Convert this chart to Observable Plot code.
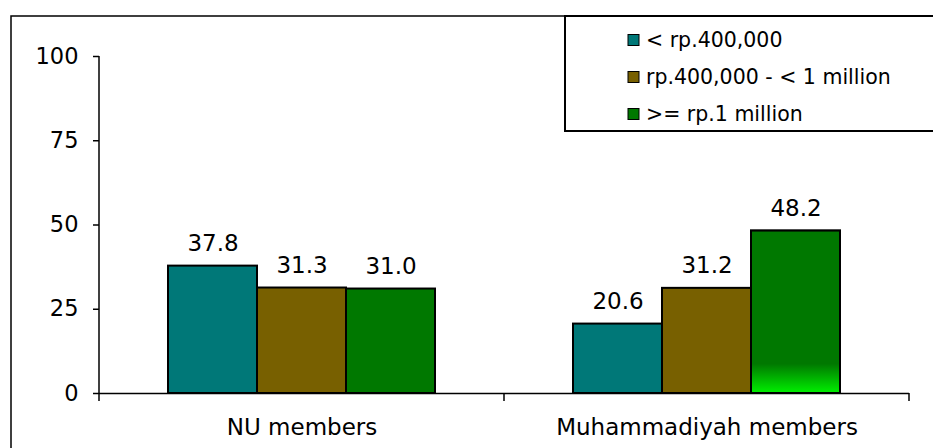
<!DOCTYPE html>
<html><head><meta charset="utf-8">
<script src="https://cdn.jsdelivr.net/npm/d3@7"></script>
<script src="https://cdn.jsdelivr.net/npm/@observablehq/plot@0.6"></script>
<style>body{margin:0;background:#fff} #chart svg{display:block}</style>
</head><body><div id="chart"></div>
<script>
const categories = ["NU members", "Muhammadiyah members"];
const series = ["< rp.400,000", "rp.400,000 - < 1 million", ">= rp.1 million"];
const nuValues = [37.8, 31.3, 31.0];
const muhValues = [20.6, 31.2, 48.2];
const colors = ["#007878", "#786000", "#007800"];
const yTicks = [0, 25, 50, 75, 100];

const data = [];
[nuValues, muhValues].forEach((vals, i) =>
  vals.forEach((v, j) => data.push({cat: categories[i], series: series[j], value: v})));
const gradBar = data.filter(d => d.cat === categories[1] && d.series === series[2]);

const font = "'DejaVu Sans', Verdana, sans-serif";
const chart = Plot.plot({
  width: 933, height: 448,
  marginLeft: 99, marginRight: 24, marginTop: 56, marginBottom: 55,
  style: {fontFamily: font, fontSize: "22px", color: "#000", background: "#fff"},
  fx: {domain: categories, padding: 0},
  x: {domain: series, paddingInner: 0, paddingOuter: 0.76, axis: null},
  y: {domain: [0, 100]},
  color: {domain: series, range: colors},
  marks: [
    Plot.axisY({ticks: yTicks, tickSize: 6, tickPadding: 15, label: null, fontSize: 22.5, strokeWidth: 1.5}),
    Plot.axisFx({anchor: "bottom", tickSize: 0, tickPadding: 25, label: null, fontSize: 23}),
    Plot.ruleY([0], {stroke: "#000", strokeWidth: 1.5}),
    Plot.barY(data, {fx: "cat", x: "series", y: "value", fill: "series", stroke: "#000", strokeWidth: 2}),
    Plot.barY(gradBar, {fx: "cat", x: "series", y: "value", fill: "url(#gradGreen)", stroke: "#000", strokeWidth: 2}),
    Plot.text(data, {fx: "cat", x: "series", y: "value", text: d => d.value.toFixed(1),
      dy: -15, lineAnchor: "bottom", fontSize: 23, fill: "#000"})
  ]
});
document.getElementById("chart").appendChild(chart);

const svg = d3.select(chart);
const fx = chart.scale("fx"), y = chart.scale("y");
const y0 = y.apply(0), y100 = y.apply(100);

const defs = svg.insert("defs", ":first-child");
const g = defs.append("linearGradient").attr("id", "gradGreen")
  .attr("x1", 0).attr("y1", 0).attr("x2", 0).attr("y2", 1);
g.append("stop").attr("offset", "0").attr("stop-color", colors[2]);
g.append("stop").attr("offset", "0.82").attr("stop-color", colors[2]);
g.append("stop").attr("offset", "1").attr("stop-color", "#00f000");

// y axis line and category boundary ticks
const xLeft = fx.apply(categories[0]);
svg.append("line").attr("x1", xLeft).attr("x2", xLeft).attr("y1", y100).attr("y2", y0 + 8)
  .attr("stroke", "#000").attr("stroke-width", 1.5);
categories.forEach(c => {
  const xr = fx.apply(c) + fx.bandwidth;
  svg.append("line").attr("x1", xr).attr("x2", xr).attr("y1", y0).attr("y2", y0 + 8)
    .attr("stroke", "#000").attr("stroke-width", 1.5);
});

// outer border
svg.append("rect").attr("x", 11).attr("y", 16).attr("width", 1000).attr("height", 1000)
  .attr("fill", "none").attr("stroke", "#000").attr("stroke-width", 1.5);

// legend
const lg = svg.append("g").attr("text-anchor", "start");
lg.append("rect").attr("x", 565).attr("y", 16).attr("width", 400).attr("height", 115)
  .attr("fill", "#fff").attr("stroke", "#000").attr("stroke-width", 2);
series.forEach((s, i) => {
  const cy = 40 + i * 37;
  lg.append("rect").attr("x", 628).attr("y", cy - 5.5).attr("width", 11).attr("height", 11)
    .attr("fill", colors[i]).attr("stroke", "#000").attr("stroke-width", 1);
  lg.append("text").attr("x", 646).attr("y", cy).attr("dy", "0.35em")
    .attr("text-anchor", "start").attr("font-size", 20.5).attr("fill", "#000").text(s);
});
</script></body></html>
